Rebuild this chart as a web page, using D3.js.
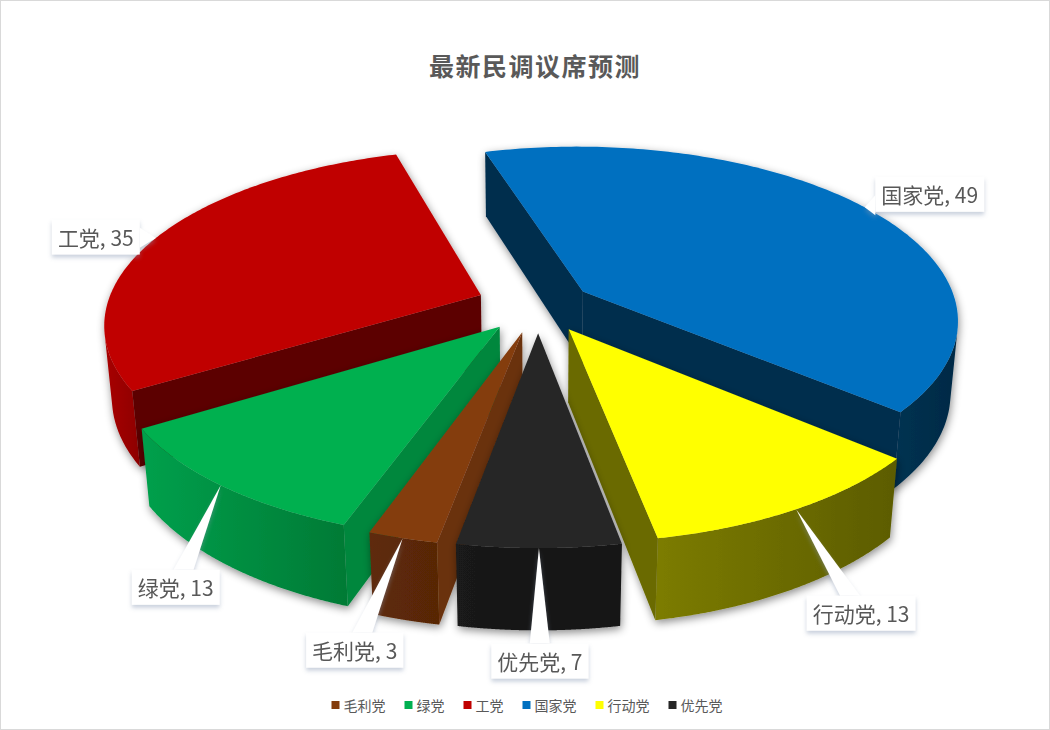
<!DOCTYPE html>
<html>
<head>
<meta charset="utf-8">
<script src="https://cdn.jsdelivr.net/npm/d3@7"></script>
<style>
html, body { margin: 0; background: #fff; }
svg { display: block; font-family: "Noto Sans CJK SC", "Noto Sans", sans-serif; }
</style>
</head>
<body>
<svg id="chart" width="1050" height="730"></svg>
<script>
// ---- data ----
const parties = ['毛利党', '绿党', '工党', '国家党', '行动党', '优先党'];
const seats = [3, 13, 35, 49, 13, 7];

// ---- styles ----
const topFill = ['#843C0C', '#00B050', '#C00000', '#0070C0', '#FFFF00', '#262626'];
const cutFill = ['#6B3109', '#00873E', '#5C0000', '#002E4E', '#6B6B00', '#1C1C1C'];
const sideLight = ['#5E2A08', '#00A04C', '#A80000', '#003252', '#7C7C00', '#1A1A1A'];
const sideDark = ['#582706', '#007A35', '#8E0000', '#002A45', '#5C5C00', '#121212'];
// how far each slice is pulled out of the pie
const explodeBy = [0.16, 0.16, 0.165, 0.145, 0.16, 0.16];
// callout box offset from the rim point of each slice (px)
const labelOffset = [[-48, 112], [-45, 102], [-60, -1], [65, -13], [65, 104], [1, 113]];

const W = 1050, H = 730;
const cam = { cx: 538, cy: 305, S: 374, phi: 27.3 * Math.PI / 180, D: 5.68 };
const depth = 0.22, firstAngle = 190.4 * Math.PI / 180;
const sinP = Math.sin(cam.phi), cosP = Math.cos(cam.phi);
const camPos = [0, cam.D * sinP, cam.D * cosP];

const svg = d3.select('#chart');
const defs = svg.append('defs');

svg.append('rect').attr('x', 0.5).attr('y', 0.5).attr('width', W - 1).attr('height', H - 1)
  .attr('fill', '#fff').attr('stroke', '#d9d9d9');

const sh = defs.append('filter').attr('id', 'shadow').attr('x', '-20%').attr('y', '-20%')
  .attr('width', '140%').attr('height', '140%');
sh.append('feDropShadow').attr('dx', 1).attr('dy', 3).attr('stdDeviation', 4)
  .attr('flood-color', '#000').attr('flood-opacity', 0.45);

const csh = defs.append('filter').attr('id', 'calloutShadow').attr('x', '-20%').attr('y', '-30%')
  .attr('width', '140%').attr('height', '170%');
csh.append('feDropShadow').attr('dx', 0).attr('dy', 3).attr('stdDeviation', 2)
  .attr('flood-color', '#8797b4').attr('flood-opacity', 0.45);

// world -> screen (perspective, camera tilted down by phi)
function project(x, y, z) {
  const w = z * cosP + y * sinP;
  const k = cam.D / (cam.D - w);
  return [cam.cx + cam.S * x * k, cam.cy + cam.S * (z * sinP - y * cosP) * k];
}

const arcs = d3.pie().sort(null).startAngle(firstAngle).endAngle(firstAngle + 2 * Math.PI)(seats);

const slices = arcs.map((d, i) => {
  const mid = (d.startAngle + d.endAngle) / 2;
  const ox = explodeBy[i] * Math.sin(mid), oz = -explodeBy[i] * Math.cos(mid);
  const world = (t, r, y) => [ox + r * Math.sin(t), y, oz - r * Math.cos(t)];
  const c = world(mid, 0.6, -depth / 2);
  return { d, i, mid, world, order: c[2] * cosP + c[1] * sinP };
});

function visible(n, p) {
  return n[0] * (camPos[0] - p[0]) + n[1] * (camPos[1] - p[1]) + n[2] * (camPos[2] - p[2]) > 0;
}

const pathOf = pts => 'M' + pts.map(p => p[0].toFixed(2) + ',' + p[1].toFixed(2)).join('L') + 'Z';

const pieG = svg.append('g');

slices.slice().sort((a, b) => a.order - b.order).forEach(s => {
  const { d, i, world } = s;
  const a0 = d.startAngle, a1 = d.endAngle;
  const g = pieG.append('g').attr('filter', 'url(#shadow)');
  const steps = 160;
  const ts = d3.range(steps + 1).map(j => a0 + (a1 - a0) * j / steps);

  // outer rim side
  const vis = ts.filter(t => visible([Math.sin(t), 0, -Math.cos(t)], world(t, 1, -depth / 2)));
  if (vis.length > 1) {
    const gid = 'side' + i;
    const lg = defs.append('linearGradient').attr('id', gid).attr('x1', 0).attr('x2', 1).attr('y1', 0).attr('y2', 0);
    lg.append('stop').attr('offset', 0).attr('stop-color', sideLight[i]);
    lg.append('stop').attr('offset', 1).attr('stop-color', sideDark[i]);
    const topPts = vis.map(t => project(...world(t, 1, 0)));
    const botPts = vis.slice().reverse().map(t => project(...world(t, 1, -depth)));
    g.append('path').attr('d', pathOf(topPts.concat(botPts))).attr('fill', `url(#${gid})`);
  }

  // radial cut faces
  [[a0, a0 - Math.PI / 2], [a1, a1 + Math.PI / 2]].forEach(([a, na]) => {
    const n = [Math.sin(na), 0, -Math.cos(na)];
    if (!visible(n, world(a, 0.5, -depth / 2))) return;
    const pts = [world(a, 0, 0), world(a, 1, 0), world(a, 1, -depth), world(a, 0, -depth)].map(p => project(...p));
    g.append('path').attr('d', pathOf(pts)).attr('fill', cutFill[i]);
  });

  // top face
  const topFace = [project(...world(a0, 0, 0))].concat(ts.map(t => project(...world(t, 1, 0))));
  g.append('path').attr('d', pathOf(topFace)).attr('fill', topFill[i]);
});

// ---- callouts ----
const calloutG = svg.append('g');
slices.forEach(s => {
  const i = s.i;
  const tip = project(...s.world(s.mid, 1, 0));
  const c = [tip[0] + labelOffset[i][0], tip[1] + labelOffset[i][1]];
  const g = calloutG.append('g').attr('filter', 'url(#calloutShadow)');
  const poly = g.append('path').attr('fill', '#fff');
  const rect = g.append('rect').attr('fill', '#fff');
  const txt = g.append('text').attr('x', c[0]).attr('y', c[1]).attr('text-anchor', 'middle')
    .attr('dominant-baseline', 'central').attr('font-size', 21).attr('fill', '#595959')
    .text(`${parties[i]}, ${seats[i]}`);
  const bw = txt.node().getComputedTextLength() + 12, bh = 35;
  rect.attr('x', c[0] - bw / 2).attr('y', c[1] - bh / 2).attr('width', bw).attr('height', bh);
  // base of the pointer where the centre->tip line leaves the box
  const dx = tip[0] - c[0], dy = tip[1] - c[1];
  const tx = Math.abs(dx) > 0 ? (bw / 2) / Math.abs(dx) : Infinity;
  const ty = Math.abs(dy) > 0 ? (bh / 2) / Math.abs(dy) : Infinity;
  let b1, b2;
  if (ty < tx) {
    const bx = c[0] + dx * ty, by = c[1] + Math.sign(dy) * bh / 2;
    b1 = [bx - 10, by]; b2 = [bx + 10, by];
  } else {
    const by = c[1] + dy * tx, bx = c[0] + Math.sign(dx) * bw / 2;
    b1 = [bx, by - 10]; b2 = [bx, by + 10];
  }
  poly.attr('d', pathOf([b1, tip, b2]));
});

// ---- title ----
svg.append('text').attr('x', 535).attr('y', 65).attr('text-anchor', 'middle')
  .attr('dominant-baseline', 'central').attr('font-size', 25).attr('font-weight', 'bold')
  .attr('fill', '#595959').attr('letter-spacing', 1.5).text('最新民调议席预测');

// ---- legend ----
const legend = svg.append('g');
let lx = 0;
parties.forEach((p, i) => {
  const item = legend.append('g').attr('transform', `translate(${lx},0)`);
  item.append('rect').attr('x', 0).attr('y', -4).attr('width', 8).attr('height', 8).attr('fill', topFill[i]);
  const t = item.append('text').attr('x', 12).attr('y', 0).attr('dominant-baseline', 'central')
    .attr('font-size', 14).attr('fill', '#595959').text(p);
  lx += 12 + t.node().getComputedTextLength() + 19;
});
const legendW = lx - 19;
legend.attr('transform', `translate(${527 - legendW / 2},705)`);
</script>
</body>
</html>
